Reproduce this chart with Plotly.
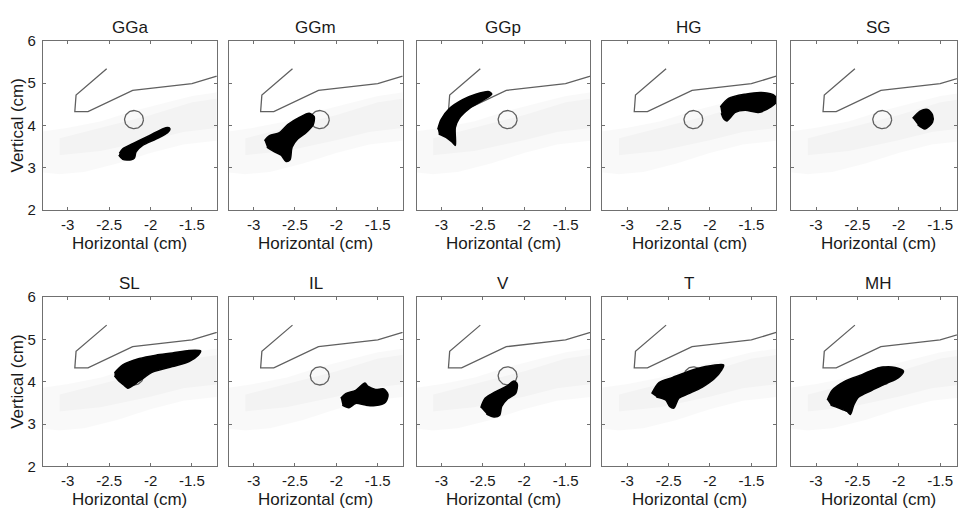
import numpy as np
import plotly.graph_objects as go

# ---------------- data (cm) ----------------
panel_names = ["GGa", "GGm", "GGp", "HG", "SG", "SL", "IL", "V", "T", "MH"]

x_ticks = [-3, -2.5, -2, -1.5]
x_tick_text = ["-3", "-2.5", "-2", "-1.5"]
y_ticks = [2, 3, 4, 5, 6]
y_tick_text = ["2", "3", "4", "5", "6"]

# palate outline
palate_x = [-2.53, -2.90, -2.915, -2.756, -2.216, -1.50, -1.21, -1.10]
palate_y = [5.34, 4.72, 4.33, 4.33, 4.83, 4.99, 5.16, 5.22]

# target circle (centre and radii in cm)
target_cx = -2.2
target_cy = 4.14
target_rx = 0.114
target_ry = 0.215

# faint background cloud of all tongue points (outer and denser core outline)
cloud_outer_x = [-3.35, -3.0, -2.6, -2.2, -1.8, -1.5, -1.15, -1.15, -1.6, -2.0, -2.4, -2.8, -3.1, -3.35]
cloud_outer_y = [3.85, 3.95, 4.10, 4.35, 4.55, 4.70, 4.80, 3.65, 3.55, 3.35, 3.10, 2.90, 2.85, 2.90]
cloud_core_x = [-3.1, -2.6, -2.0, -1.5, -1.15, -1.15, -1.6, -2.0, -2.6, -3.1]
cloud_core_y = [3.70, 3.95, 4.25, 4.55, 4.65, 3.95, 3.85, 3.65, 3.40, 3.30]

# black regions for each condition
blob_GGa_x = [-2.376, -2.336, -2.216, -2.016, -1.815, -1.767, -1.795, -1.935, -2.096, -2.175, -2.195, -2.235, -2.336, -2.384]
blob_GGa_y = [3.34, 3.45, 3.57, 3.76, 3.95, 3.93, 3.83, 3.68, 3.53, 3.38, 3.23, 3.19, 3.20, 3.30]

blob_GGm_x = [-2.868, -2.808, -2.688, -2.588, -2.448, -2.328, -2.268, -2.28, -2.367, -2.468, -2.535, -2.56, -2.607, -2.667, -2.748, -2.84]
blob_GGm_y = [3.64, 3.76, 3.83, 4.02, 4.19, 4.29, 4.21, 4.02, 3.83, 3.68, 3.49, 3.19, 3.15, 3.30, 3.38, 3.49]

blob_GGp_x = [-3.044, -3.004, -2.904, -2.744, -2.584, -2.424, -2.392, -2.504, -2.664, -2.784, -2.832, -2.832, -2.872, -2.944, -3.032]
blob_GGp_y = [3.91, 4.14, 4.40, 4.61, 4.74, 4.80, 4.74, 4.59, 4.40, 4.17, 3.95, 3.53, 3.61, 3.72, 3.80]

blob_HG_x = [-1.875, -1.775, -1.575, -1.376, -1.215, -1.196, -1.263, -1.415, -1.575, -1.695, -1.796, -1.835, -1.863]
blob_HG_y = [4.44, 4.64, 4.74, 4.78, 4.70, 4.57, 4.44, 4.31, 4.36, 4.31, 4.11, 4.16, 4.29]

blob_SG_x = [-1.832, -1.743, -1.652, -1.592, -1.592, -1.683, -1.772]
blob_SG_y = [4.17, 4.34, 4.38, 4.25, 4.08, 3.92, 4.02]

blob_SL_x = [-2.436, -2.336, -2.136, -1.935, -1.736, -1.535, -1.395, -1.424, -1.535, -1.736, -1.976, -2.136, -2.276, -2.316, -2.384, -2.436]
blob_SL_y = [4.21, 4.40, 4.55, 4.63, 4.68, 4.74, 4.73, 4.63, 4.48, 4.36, 4.23, 4.02, 3.85, 3.91, 4.02, 4.14]

blob_IL_x = [-1.947, -1.887, -1.767, -1.655, -1.616, -1.527, -1.427, -1.376, -1.407, -1.527, -1.647, -1.767, -1.847, -1.928]
blob_IL_y = [3.61, 3.72, 3.80, 3.97, 3.89, 3.82, 3.83, 3.70, 3.52, 3.44, 3.45, 3.49, 3.39, 3.45]

blob_V_x = [-2.524, -2.472, -2.344, -2.216, -2.124, -2.084, -2.104, -2.204, -2.272, -2.296, -2.364, -2.456]
blob_V_y = [3.39, 3.61, 3.77, 3.89, 4.02, 3.95, 3.72, 3.59, 3.42, 3.21, 3.17, 3.24]

blob_T_x = [-2.704, -2.616, -2.456, -2.256, -2.055, -1.835, -1.856, -1.955, -2.096, -2.256, -2.376, -2.436, -2.488, -2.536, -2.648]
blob_T_y = [3.72, 3.98, 4.10, 4.25, 4.36, 4.40, 4.29, 4.06, 3.87, 3.72, 3.61, 3.38, 3.42, 3.57, 3.64]

blob_MH_x = [-2.864, -2.804, -2.644, -2.444, -2.244, -2.043, -1.943, -2.003, -2.164, -2.324, -2.484, -2.544, -2.584, -2.624, -2.724, -2.824]
blob_MH_y = [3.57, 3.80, 4.02, 4.17, 4.33, 4.34, 4.25, 4.10, 3.95, 3.80, 3.64, 3.45, 3.23, 3.30, 3.38, 3.45]

blobs_x = [blob_GGa_x, blob_GGm_x, blob_GGp_x, blob_HG_x, blob_SG_x,
           blob_SL_x, blob_IL_x, blob_V_x, blob_T_x, blob_MH_x]
blobs_y = [blob_GGa_y, blob_GGm_y, blob_GGp_y, blob_HG_y, blob_SG_y,
           blob_SL_y, blob_IL_y, blob_V_y, blob_T_y, blob_MH_y]

# ---------------- layout geometry (pixels) ----------------
W, H = 958, 517
col_left = [43, 229, 417, 603, 792]
panel_w = 174
row_top = [33, 298]
panel_h = 175
x_min, x_max_full = -3.3, -1.2
px_per_cm = panel_w / (x_max_full - x_min)

FONT = "Liberation Sans, Arial, Helvetica, sans-serif"
AX_COL = "#707070"
TXT = "#1a1a1a"

fig = go.Figure()
layout = dict(
    width=W, height=H,
    margin=dict(l=0, r=0, t=0, b=0),
    paper_bgcolor="white", plot_bgcolor="white",
    showlegend=False,
    font=dict(family=FONT, color=TXT, size=15),
    annotations=[],
)

theta = np.linspace(0, 2 * np.pi, 73)
circ_x = target_cx + target_rx * np.cos(theta)
circ_y = target_cy + target_ry * np.sin(theta)

for i, name in enumerate(panel_names):
    r, c = divmod(i, 5)
    left = col_left[c]
    right = min(left + panel_w, W)
    top = row_top[r]
    bottom = top + panel_h
    xr = [x_min, x_min + (right - left) / px_per_cm]
    sfx = "" if i == 0 else str(i + 1)
    xa, ya = "x" + sfx, "y" + sfx

    layout["xaxis" + sfx] = dict(
        domain=[left / W, right / W], range=xr, anchor=ya,
        showline=True, linecolor=AX_COL, linewidth=1, mirror="ticks",
        ticks="inside", ticklen=3, tickcolor=AX_COL,
        tickvals=x_ticks, ticktext=x_tick_text, showgrid=False, zeroline=False,
        tickfont=dict(size=15, family=FONT, color=TXT), ticklabelstandoff=1,
    )
    layout["yaxis" + sfx] = dict(
        domain=[1 - bottom / H, 1 - top / H], range=[2, 6], anchor=xa,
        showline=True, linecolor=AX_COL, linewidth=1, mirror="ticks",
        ticks="inside", ticklen=3, tickcolor=AX_COL,
        tickvals=y_ticks, ticktext=y_tick_text, showgrid=False, zeroline=False,
        showticklabels=(c == 0),
        tickfont=dict(size=15, family=FONT, color=TXT), ticklabelstandoff=3,
    )

    fig.add_trace(go.Scatter(x=cloud_outer_x, y=cloud_outer_y, xaxis=xa, yaxis=ya,
                             mode="lines", line=dict(width=0),
                             fill="toself", fillcolor="rgba(0,0,0,0.025)", hoverinfo="skip"))
    fig.add_trace(go.Scatter(x=cloud_core_x, y=cloud_core_y, xaxis=xa, yaxis=ya,
                             mode="lines", line=dict(width=0),
                             fill="toself", fillcolor="rgba(0,0,0,0.025)", hoverinfo="skip"))
    fig.add_trace(go.Scatter(x=palate_x, y=palate_y, xaxis=xa, yaxis=ya, mode="lines",
                             line=dict(color="#606060", width=1.3), hoverinfo="skip"))
    fig.add_trace(go.Scatter(x=circ_x, y=circ_y, xaxis=xa, yaxis=ya, mode="lines",
                             line=dict(color="#606060", width=1.3), hoverinfo="skip"))
    fig.add_trace(go.Scatter(x=blobs_x[i], y=blobs_y[i], xaxis=xa, yaxis=ya, mode="lines",
                             line=dict(color="black", width=1.5, shape="spline", smoothing=0.8),
                             fill="toself", fillcolor="black", hoverinfo="skip"))

    cx = (left + left + panel_w) / 2 / W
    layout["annotations"].append(dict(
        text=name, x=cx, y=1 - top / H, xref="paper", yref="paper",
        xanchor="center", yanchor="bottom", yshift=2, showarrow=False,
        font=dict(size=17, family=FONT, color=TXT)))
    layout["annotations"].append(dict(
        text="Horizontal (cm)", x=cx, y=1 - bottom / H, xref="paper", yref="paper",
        xanchor="center", yanchor="middle", yshift=-33, showarrow=False,
        font=dict(size=17, family=FONT, color=TXT)))
    if c == 0:
        layout["annotations"].append(dict(
            text="Vertical (cm)", x=18 / W, y=1 - (top + bottom) / 2 / H,
            xref="paper", yref="paper", xanchor="center", yanchor="middle",
            textangle=-90, showarrow=False,
            font=dict(size=17, family=FONT, color=TXT)))

fig.update_layout(**layout)
fig.write_html("out.html")
